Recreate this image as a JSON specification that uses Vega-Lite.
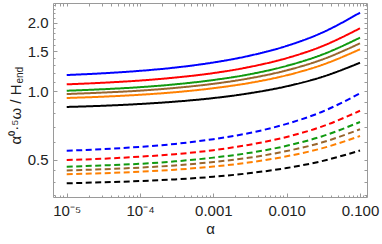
{
  "$schema": "https://vega.github.io/schema/vega-lite/v6.json",
  "width": 314,
  "height": 194,
  "autosize": {"type": "none"},
  "padding": {"left": 53, "top": 3, "right": 15, "bottom": 47},
  "background": "white",
  "config": {
    "view": {"stroke": "#9a9a9a", "strokeWidth": 1},
    "axis": {
      "domain": false, "grid": false, "tickColor": "#9a9a9a", "tickWidth": 1,
      "labelFont": "Liberation Sans", "titleFont": "Liberation Sans",
      "labelColor": "#222222", "titleColor": "#222222",
      "labelFontSize": 15, "titleFontSize": 15, "titleFontWeight": "normal"
    }
  },
  "data": {"values": [
    {"a":1e-5,"v":1.179,"c":"blue","t":"solid"},{"a":3e-5,"v":1.199,"c":"blue","t":"solid"},{"a":1e-4,"v":1.230,"c":"blue","t":"solid"},{"a":3e-4,"v":1.271,"c":"blue","t":"solid"},{"a":0.001,"v":1.338,"c":"blue","t":"solid"},{"a":0.003,"v":1.429,"c":"blue","t":"solid"},{"a":0.01,"v":1.582,"c":"blue","t":"solid"},{"a":0.03,"v":1.805,"c":"blue","t":"solid"},{"a":0.1,"v":2.213,"c":"blue","t":"solid"},
    {"a":1e-5,"v":1.073,"c":"red","t":"solid"},{"a":3e-5,"v":1.090,"c":"red","t":"solid"},{"a":1e-4,"v":1.115,"c":"red","t":"solid"},{"a":3e-4,"v":1.149,"c":"red","t":"solid"},{"a":0.001,"v":1.202,"c":"red","t":"solid"},{"a":0.003,"v":1.276,"c":"red","t":"solid"},{"a":0.01,"v":1.398,"c":"red","t":"solid"},{"a":0.03,"v":1.574,"c":"red","t":"solid"},{"a":0.1,"v":1.890,"c":"red","t":"solid"},
    {"a":1e-5,"v":1.006,"c":"green","t":"solid"},{"a":3e-5,"v":1.021,"c":"green","t":"solid"},{"a":1e-4,"v":1.043,"c":"green","t":"solid"},{"a":3e-4,"v":1.073,"c":"green","t":"solid"},{"a":0.001,"v":1.121,"c":"green","t":"solid"},{"a":0.003,"v":1.185,"c":"green","t":"solid"},{"a":0.01,"v":1.293,"c":"green","t":"solid"},{"a":0.03,"v":1.446,"c":"green","t":"solid"},{"a":0.1,"v":1.719,"c":"green","t":"solid"},
    {"a":1e-5,"v":0.973,"c":"brown","t":"solid"},{"a":3e-5,"v":0.987,"c":"brown","t":"solid"},{"a":1e-4,"v":1.007,"c":"brown","t":"solid"},{"a":3e-4,"v":1.035,"c":"brown","t":"solid"},{"a":0.001,"v":1.079,"c":"brown","t":"solid"},{"a":0.003,"v":1.138,"c":"brown","t":"solid"},{"a":0.01,"v":1.236,"c":"brown","t":"solid"},{"a":0.03,"v":1.376,"c":"brown","t":"solid"},{"a":0.1,"v":1.624,"c":"brown","t":"solid"},
    {"a":1e-5,"v":0.935,"c":"orange","t":"solid"},{"a":3e-5,"v":0.947,"c":"orange","t":"solid"},{"a":1e-4,"v":0.966,"c":"orange","t":"solid"},{"a":3e-4,"v":0.991,"c":"orange","t":"solid"},{"a":0.001,"v":1.032,"c":"orange","t":"solid"},{"a":0.003,"v":1.086,"c":"orange","t":"solid"},{"a":0.01,"v":1.176,"c":"orange","t":"solid"},{"a":0.03,"v":1.304,"c":"orange","t":"solid"},{"a":0.1,"v":1.529,"c":"orange","t":"solid"},
    {"a":1e-5,"v":0.854,"c":"black","t":"solid"},{"a":3e-5,"v":0.864,"c":"black","t":"solid"},{"a":1e-4,"v":0.880,"c":"black","t":"solid"},{"a":3e-4,"v":0.901,"c":"black","t":"solid"},{"a":0.001,"v":0.934,"c":"black","t":"solid"},{"a":0.003,"v":0.979,"c":"black","t":"solid"},{"a":0.01,"v":1.052,"c":"black","t":"solid"},{"a":0.03,"v":1.155,"c":"black","t":"solid"},{"a":0.1,"v":1.335,"c":"black","t":"solid"},
    {"a":1e-5,"v":0.549,"c":"blue","t":"dashed"},{"a":3e-5,"v":0.557,"c":"blue","t":"dashed"},{"a":1e-4,"v":0.571,"c":"blue","t":"dashed"},{"a":3e-4,"v":0.588,"c":"blue","t":"dashed"},{"a":0.001,"v":0.617,"c":"blue","t":"dashed"},{"a":0.003,"v":0.655,"c":"blue","t":"dashed"},{"a":0.01,"v":0.720,"c":"blue","t":"dashed"},{"a":0.03,"v":0.812,"c":"blue","t":"dashed"},{"a":0.1,"v":0.980,"c":"blue","t":"dashed"},
    {"a":1e-5,"v":0.500,"c":"red","t":"dashed"},{"a":3e-5,"v":0.506,"c":"red","t":"dashed"},{"a":1e-4,"v":0.517,"c":"red","t":"dashed"},{"a":3e-4,"v":0.530,"c":"red","t":"dashed"},{"a":0.001,"v":0.552,"c":"red","t":"dashed"},{"a":0.003,"v":0.582,"c":"red","t":"dashed"},{"a":0.01,"v":0.631,"c":"red","t":"dashed"},{"a":0.03,"v":0.700,"c":"red","t":"dashed"},{"a":0.1,"v":0.822,"c":"red","t":"dashed"},
    {"a":1e-5,"v":0.467,"c":"green","t":"dashed"},{"a":3e-5,"v":0.473,"c":"green","t":"dashed"},{"a":1e-4,"v":0.481,"c":"green","t":"dashed"},{"a":3e-4,"v":0.493,"c":"green","t":"dashed"},{"a":0.001,"v":0.512,"c":"green","t":"dashed"},{"a":0.003,"v":0.536,"c":"green","t":"dashed"},{"a":0.01,"v":0.577,"c":"green","t":"dashed"},{"a":0.03,"v":0.634,"c":"green","t":"dashed"},{"a":0.1,"v":0.734,"c":"green","t":"dashed"},
    {"a":1e-5,"v":0.450,"c":"brown","t":"dashed"},{"a":3e-5,"v":0.455,"c":"brown","t":"dashed"},{"a":1e-4,"v":0.463,"c":"brown","t":"dashed"},{"a":3e-4,"v":0.473,"c":"brown","t":"dashed"},{"a":0.001,"v":0.490,"c":"brown","t":"dashed"},{"a":0.003,"v":0.511,"c":"brown","t":"dashed"},{"a":0.01,"v":0.547,"c":"brown","t":"dashed"},{"a":0.03,"v":0.596,"c":"brown","t":"dashed"},{"a":0.1,"v":0.682,"c":"brown","t":"dashed"},
    {"a":1e-5,"v":0.433,"c":"orange","t":"dashed"},{"a":3e-5,"v":0.437,"c":"orange","t":"dashed"},{"a":1e-4,"v":0.444,"c":"orange","t":"dashed"},{"a":3e-4,"v":0.453,"c":"orange","t":"dashed"},{"a":0.001,"v":0.468,"c":"orange","t":"dashed"},{"a":0.003,"v":0.487,"c":"orange","t":"dashed"},{"a":0.01,"v":0.519,"c":"orange","t":"dashed"},{"a":0.03,"v":0.562,"c":"orange","t":"dashed"},{"a":0.1,"v":0.637,"c":"orange","t":"dashed"},
    {"a":1e-5,"v":0.395,"c":"black","t":"dashed"},{"a":3e-5,"v":0.399,"c":"black","t":"dashed"},{"a":1e-4,"v":0.404,"c":"black","t":"dashed"},{"a":3e-4,"v":0.411,"c":"black","t":"dashed"},{"a":0.001,"v":0.422,"c":"black","t":"dashed"},{"a":0.003,"v":0.437,"c":"black","t":"dashed"},{"a":0.01,"v":0.461,"c":"black","t":"dashed"},{"a":0.03,"v":0.494,"c":"black","t":"dashed"},{"a":0.1,"v":0.550,"c":"black","t":"dashed"}
  ]},
  "layer": [
    {
      "transform": [{"filter": "datum.t == 'solid'"}],
      "mark": {"type": "line", "interpolate": "monotone", "strokeWidth": 2, "clip": true},
      "encoding": {
        "x": {"field": "a", "type": "quantitative",
          "scale": {"type": "log", "domain": [6.5e-6, 0.1245], "nice": false},
          "axis": {"orient": "bottom", "values": [1e-5, 1e-4, 0.001, 0.01, 0.1], "tickSize": -4,
            "labelPadding": 10, "labelFlush": false,
            "labelExpr": "datum.value < 5e-5 ? '10⁻⁵' : datum.value < 5e-4 ? '10⁻⁴' : datum.value < 5e-3 ? '0.001' : datum.value < 0.05 ? '0.010' : '0.100'",
            "title": "α", "titlePadding": 3}},
        "y": {"field": "v", "type": "quantitative",
          "scale": {"type": "log", "domain": [0.344, 2.44], "nice": false},
          "axis": {"orient": "left", "values": [0.5, 1, 1.5, 2], "format": ".1f", "tickSize": -4,
            "labelPadding": 9, "labelFlush": false,
            "title": "α⁰·⁵ω / H", "titleAngle": -90, "titleAlign": "right", "titleBaseline": "alphabetic",
            "titleX": -33, "titleY": 81}},
        "color": {"field": "c", "type": "nominal", "legend": null,
          "scale": {"domain": ["blue", "red", "green", "brown", "orange", "black"],
            "range": ["#0000ff", "#ff0000", "#109a10", "#99662e", "#ff8000", "#000000"]}},
        "strokeDash": {"field": "t", "type": "nominal", "legend": null,
          "scale": {"domain": ["solid", "dashed"], "range": [[1, 0], [6, 3.5]]}}
      }
    },
    {
      "transform": [{"filter": "datum.t == 'dashed' && indexof(['blue','red','green'], datum.c) >= 0"}],
      "mark": {"type": "line", "interpolate": "monotone", "strokeWidth": 2, "clip": true},
      "encoding": {
        "x": {"field": "a", "type": "quantitative",
          "scale": {"type": "log", "domain": [6.5e-6, 0.1245], "nice": false},
          "axis": {"orient": "bottom", "labels": false, "tickSize": -2, "title": null,
            "values": [7e-6, 8e-6, 9e-6, 2e-5, 3e-5, 4e-5, 5e-5, 6e-5, 7e-5, 8e-5, 9e-5, 2e-4, 3e-4, 4e-4, 5e-4, 6e-4, 7e-4, 8e-4, 9e-4, 0.002, 0.003, 0.004, 0.005, 0.006, 0.007, 0.008, 0.009, 0.02, 0.03, 0.04, 0.05, 0.06, 0.07, 0.08, 0.09, 0.11, 0.12]}},
        "y": {"field": "v", "type": "quantitative",
          "scale": {"type": "log", "domain": [0.344, 2.44], "nice": false},
          "axis": {"orient": "left", "labels": false, "tickSize": -2,
            "values": [0.35, 0.4, 0.45, 0.6, 0.7, 0.8, 0.9, 1.1, 1.2, 1.3, 1.4, 1.6, 1.7, 1.8, 1.9, 2.1, 2.2, 2.3, 2.4],
            "title": "end", "titleFontSize": 10, "titleAngle": -90, "titleAlign": "left", "titleBaseline": "alphabetic",
            "titleX": -31, "titleY": 80}},
        "color": {"field": "c", "type": "nominal", "legend": null},
        "strokeDash": {"field": "t", "type": "nominal", "legend": null}
      }
    },
    {
      "transform": [{"filter": "datum.t == 'dashed' && indexof(['brown','orange','black'], datum.c) >= 0"}],
      "mark": {"type": "line", "interpolate": "monotone", "strokeWidth": 2, "clip": true},
      "encoding": {
        "x": {"field": "a", "type": "quantitative",
          "scale": {"type": "log", "domain": [6.5e-6, 0.1245], "nice": false},
          "axis": {"orient": "top", "labels": false, "tickSize": -3, "title": null,
            "values": [7e-6, 8e-6, 9e-6, 1e-5, 2e-5, 3e-5, 4e-5, 5e-5, 6e-5, 7e-5, 8e-5, 9e-5, 1e-4, 2e-4, 3e-4, 4e-4, 5e-4, 6e-4, 7e-4, 8e-4, 9e-4, 0.001, 0.002, 0.003, 0.004, 0.005, 0.006, 0.007, 0.008, 0.009, 0.01, 0.02, 0.03, 0.04, 0.05, 0.06, 0.07, 0.08, 0.09, 0.1, 0.11, 0.12]}},
        "y": {"field": "v", "type": "quantitative",
          "scale": {"type": "log", "domain": [0.344, 2.44], "nice": false},
          "axis": {"orient": "right", "labels": false, "tickSize": -3, "title": null,
            "values": [0.35, 0.4, 0.45, 0.5, 0.6, 0.7, 0.8, 0.9, 1, 1.1, 1.2, 1.3, 1.4, 1.5, 1.6, 1.7, 1.8, 1.9, 2, 2.1, 2.2, 2.3, 2.4]}},
        "color": {"field": "c", "type": "nominal", "legend": null},
        "strokeDash": {"field": "t", "type": "nominal", "legend": null}
      }
    }
  ],
  "resolve": {"axis": {"x": "independent", "y": "independent"}}
}
